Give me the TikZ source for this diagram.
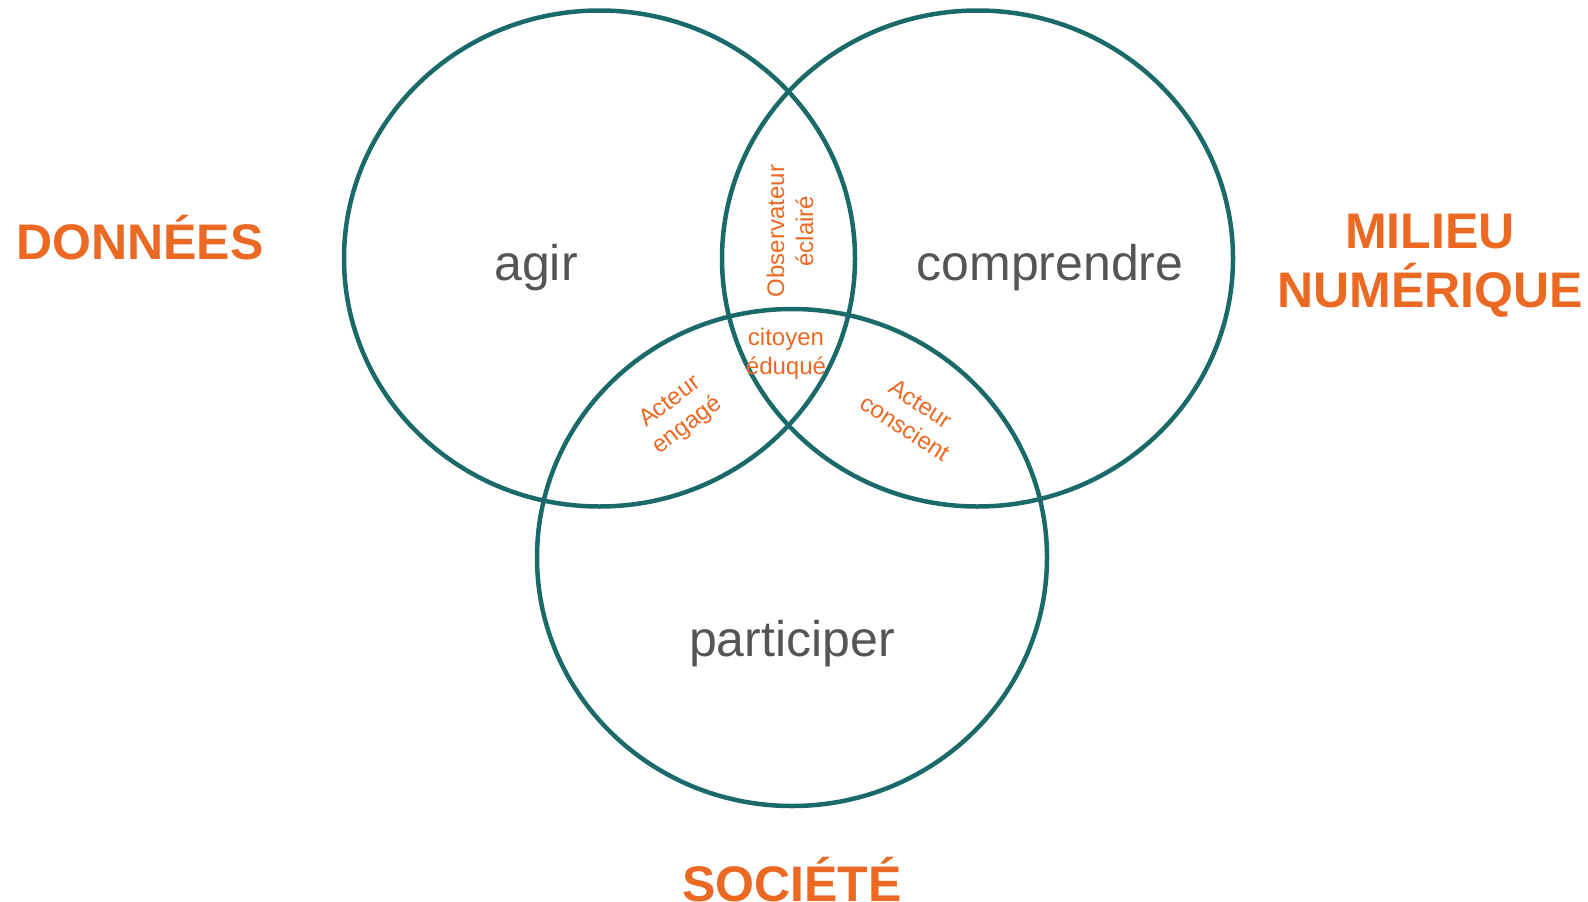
\documentclass[tikz,border=0pt]{standalone}
\usepackage{fontspec}
\setmainfont{Liberation Sans}
\definecolor{teal}{HTML}{1B6A6A}
\definecolor{orng}{HTML}{EB6923}
\definecolor{txtgray}{HTML}{555555}
\begin{document}
\begin{tikzpicture}[x=1pt,y=-1pt,
  ring/.style={draw=teal,line width=4.5pt},
  big/.style={text=txtgray,font=\fontsize{50}{58}\selectfont,inner sep=0pt},
  title/.style={text=orng,font=\fontsize{50}{59}\selectfont\bfseries,inner sep=0pt,align=center},
  small/.style={text=orng,font=\fontsize{24}{29}\selectfont,inner sep=0pt,align=center}]
\useasboundingbox (0,0) rectangle (1588,902);
\draw[ring] (599.5,258.5) ellipse [x radius=255.5, y radius=248];
\draw[ring] (977.5,258.5) ellipse [x radius=255.5, y radius=248];
\draw[ring] (792,557.5) ellipse [x radius=255, y radius=248.5];
\node[big] (agir) at (536,268) {agir};
\node[big] (comp) at (1050,268) {comprendre};
\node[big] (part) at (792,644) {participer};
\node[title] (donnees) at (140,238) {DONNÉES};
\node[title] (milieu) at (1430,266) {MILIEU\\NUMÉRIQUE};
\node[title] (societe) at (792,880) {SOCIÉTÉ};
\node[small,rotate=90] (obs) at (790,231) {Observateur\\éclairé};
\node[small] (cit) at (786,354) {citoyen\\éduqué};
\node[small,rotate=37] (eng) at (679,414) {Acteur\\engagé};
\node[small,rotate=-33] (cons) at (913,416) {Acteur\\conscient};
\end{tikzpicture}
\end{document}
